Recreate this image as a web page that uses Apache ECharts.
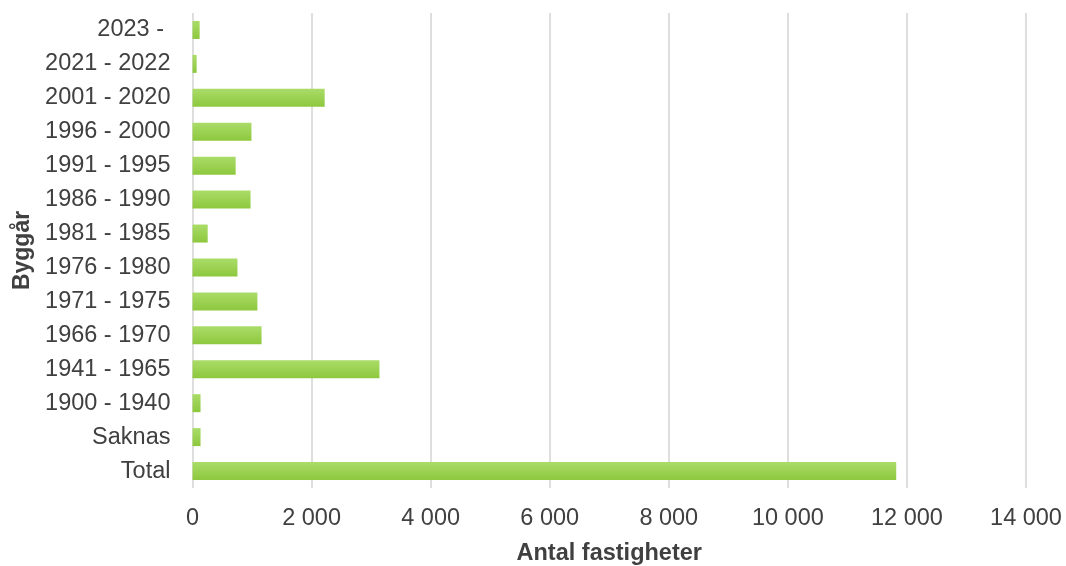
<!DOCTYPE html>
<html>
<head>
<meta charset="utf-8">
<script src="https://cdn.jsdelivr.net/npm/echarts@6/dist/echarts.min.js"></script>
<style>
  html, body { margin: 0; padding: 0; background: #ffffff; }
  #chart { width: 1066px; height: 566px; }
</style>
</head>
<body>
<div id="chart"></div>
<script>
// Building year bands, listed top to bottom
const categories = [
  '2023 - ', '2021 - 2022', '2001 - 2020', '1996 - 2000', '1991 - 1995',
  '1986 - 1990', '1981 - 1985', '1976 - 1980', '1971 - 1975', '1966 - 1970',
  '1941 - 1965', '1900 - 1940', 'Saknas', 'Total'
];
// Number of properties per band
const counts = [
  120, 70, 2220, 990, 725,
  975, 255, 755, 1090, 1160,
  3140, 135, 135, 11820
];
const xTicks = { min: 0, max: 14000, interval: 2000 };
const xAxisTitle = 'Antal fastigheter';
const yAxisTitle = 'Byggår';

const textColor = '#404040';
const fontFamily = 'Liberation Sans, Arial, sans-serif';

const chart = echarts.init(document.getElementById('chart'));
chart.setOption({
  backgroundColor: '#ffffff',
  animation: false,
  grid: { left: 192.5, right: 40, top: 13, bottom: 78, containLabel: false, outerBoundsMode: 'none' },
  xAxis: {
    type: 'value',
    min: xTicks.min,
    max: xTicks.max,
    interval: xTicks.interval,
    name: xAxisTitle,
    nameLocation: 'middle',
    nameGap: 54,
    nameTextStyle: { color: textColor, fontSize: 23.5, fontWeight: 'bold', fontFamily },
    axisLine: { show: false },
    axisTick: { show: false },
    axisLabel: {
      color: textColor, fontSize: 23.5, fontFamily, margin: 19,
      formatter: v => String(v).replace(/\B(?=(\d{3})+(?!\d))/g, ' ')
    },
    splitLine: { show: true, lineStyle: { color: '#dedede', width: 2 } }
  },
  yAxis: {
    type: 'category',
    data: categories,
    inverse: true,
    name: yAxisTitle,
    nameLocation: 'middle',
    nameGap: 158,
    nameRotate: 90,
    nameTextStyle: { color: textColor, fontSize: 23, fontWeight: 'bold', fontFamily },
    axisLine: { show: false },
    axisTick: { show: false },
    axisLabel: { color: textColor, fontSize: 23.5, fontFamily, margin: 22 },
    splitLine: { show: false }
  },
  series: [{
    type: 'bar',
    data: counts,
    barWidth: 18,
    itemStyle: {
      color: new echarts.graphic.LinearGradient(0, 0, 0, 1, [
        { offset: 0, color: '#aadc68' },
        { offset: 1, color: '#8dc83e' }
      ])
    }
  }]
});
</script>
</body>
</html>
